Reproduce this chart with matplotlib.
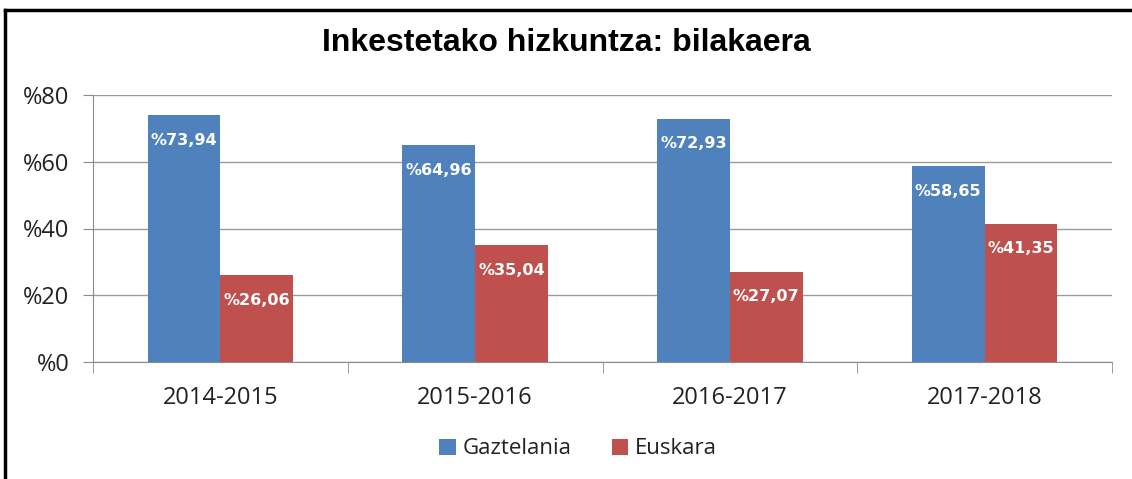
import matplotlib
matplotlib.use("Agg")
import matplotlib.pyplot as plt
import numpy as np

categories = ["2014-2015", "2015-2016", "2016-2017", "2017-2018"]
gaztelania = [73.94, 64.96, 72.93, 58.65]
euskara = [26.06, 35.04, 27.07, 41.35]
series_names = ["Gaztelania", "Euskara"]
yticks = [0, 20, 40, 60, 80]

blue = "#4F81BD"
red = "#C0504D"

fig = plt.figure(figsize=(11.32, 4.79), dpi=100)
ax = fig.add_axes([93/1132, 1 - 362/479, (1112-93)/1132, (362-95)/479])

x = np.arange(len(categories))
w = 0.286
b1 = ax.bar(x - w/2, gaztelania, w, color=blue, label=series_names[0], zorder=3)
b2 = ax.bar(x + w/2, euskara, w, color=red, label=series_names[1], zorder=3)

def fmt(v):
    return "%" + f"{v:.2f}".replace(".", ",")

for bars, vals in ((b1, gaztelania), (b2, euskara)):
    for r, v in zip(bars, vals):
        ax.annotate(fmt(v), (r.get_x() + r.get_width()/2, v), xytext=(0, -18),
                    textcoords="offset points", ha="center", va="center",
                    color="white", fontsize=11.5, fontweight="bold",
                    family="DejaVu Sans", zorder=4)

ax.set_xlim(-0.5, len(categories) - 0.5)
ax.set_ylim(0, 80)
ax.set_yticks(yticks)
ax.set_yticklabels(["%" + str(t) for t in yticks], fontsize=17, family="Open Sans", color="#222222")
ax.yaxis.grid(True, color="#9a9a9a", linewidth=1, zorder=0)
ax.set_xticks(x)
ax.set_xticklabels(categories, fontsize=17, family="Open Sans", color="#222222")
ax.tick_params(axis="x", length=0, pad=17)
ax.tick_params(axis="y", length=7, color="#8c8c8c", pad=10)
ax.set_xticks(np.arange(-0.5, len(categories) + 0.5, 1), minor=True)
ax.tick_params(axis="x", which="minor", length=8, color="#8c8c8c")
for s in ["top", "right"]:
    ax.spines[s].set_visible(False)
for s in ["left", "bottom"]:
    ax.spines[s].set_color("#8c8c8c")

fig.text(566/1132, 1 - 43/479, "Inkestetako hizkuntza: bilakaera", ha="center", va="center",
         fontsize=23, fontweight="bold", family="Liberation Sans")

leg = fig.legend(handles=[b1, b2], labels=series_names, loc="center", ncol=2,
                 bbox_to_anchor=(578/1132, 1 - 449/479), frameon=False,
                 prop={"family": "Open Sans", "size": 16}, handlelength=0.75, handleheight=0.75,
                 columnspacing=1.8, handletextpad=0.3)
for t in leg.get_texts():
    t.set_color("#222222")

# frame lines (top and left visible)
fig.add_artist(plt.Line2D([5/1132, 5/1132], [0, 1 - 10/479], transform=fig.transFigure, color="black", linewidth=2.5))
fig.add_artist(plt.Line2D([5/1132, 1], [1 - 10/479, 1 - 10/479], transform=fig.transFigure, color="black", linewidth=2.5))

fig.savefig("out.png", dpi=100)
